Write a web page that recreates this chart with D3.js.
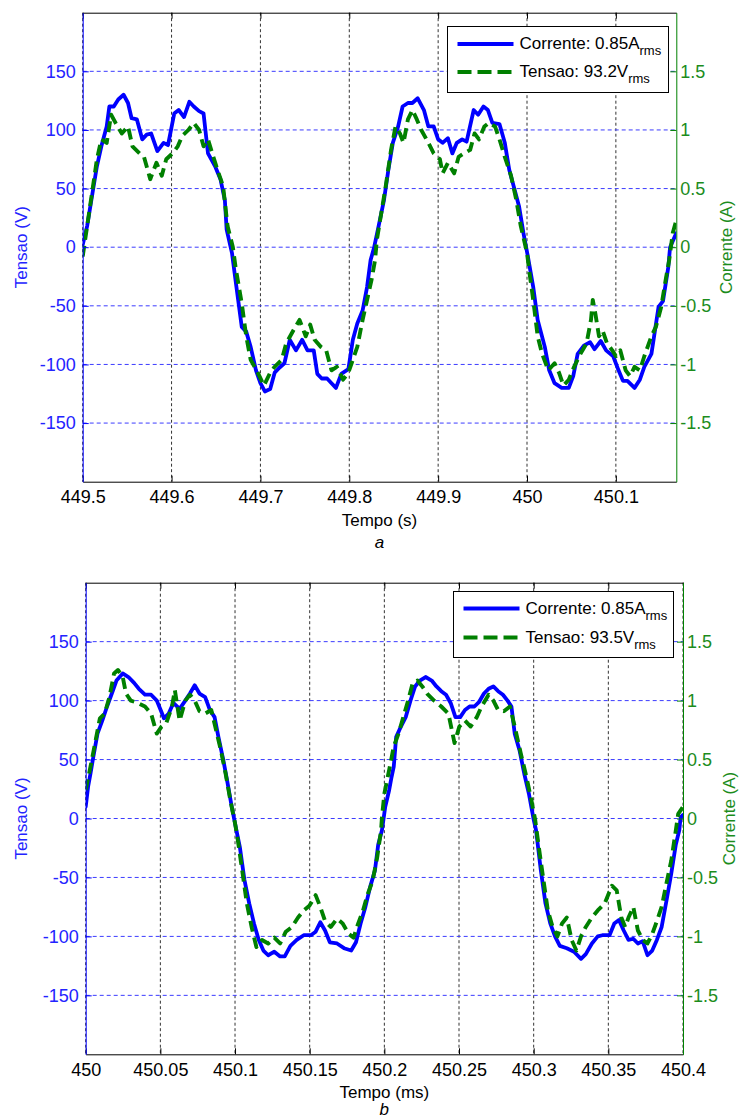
<!DOCTYPE html>
<html><head><meta charset="utf-8">
<script src="https://cdn.jsdelivr.net/npm/d3@7"></script>
<style>
body{margin:0;background:#fff}
svg text{font-family:"Liberation Sans",Arial,sans-serif}
</style></head><body>
<svg id="c" width="743" height="1120"></svg>
<script>
// ---------- data: panel a ----------
const aTimeCorrente = [449.500,449.505,449.511,449.516,449.521,449.527,449.530,449.535,449.540,449.546,
449.551,449.555,449.561,449.567,449.572,449.577,449.584,449.591,449.596,449.603,
449.608,449.614,449.620,449.625,449.631,449.636,449.641,449.649,449.655,449.660,
449.662,449.668,449.673,449.679,449.684,449.689,449.695,449.700,449.705,449.711,
449.716,449.721,449.727,449.733,449.740,449.747,449.753,449.760,449.764,449.769,
449.775,449.780,449.785,449.791,449.799,449.804,449.809,449.815,449.820,449.824,
449.828,449.833,449.839,449.844,449.849,449.855,449.860,449.866,449.871,449.877,
449.884,449.889,449.895,449.900,449.905,449.911,449.916,449.921,449.927,449.932,
449.940,449.945,449.951,449.956,449.961,449.969,449.975,449.980,449.985,449.991,
449.996,450.001,450.007,450.012,450.020,450.025,450.031,450.039,450.047,450.052,
450.057,450.064,450.071,450.076,450.083,450.089,450.097,450.103,450.108,450.113,
450.121,450.127,450.132,450.140,450.148,450.153,450.159,450.161,450.168];
const aCorrente = [0.02,0.18,0.46,0.69,0.86,1.03,1.20,1.20,1.26,1.30,
1.23,1.10,1.09,0.92,0.96,0.97,0.82,0.89,0.87,1.14,
1.17,1.11,1.24,1.20,1.16,1.14,0.80,0.69,0.58,0.40,
0.15,-0.05,-0.34,-0.68,-0.72,-0.85,-1.05,-1.16,-1.23,-1.21,
-1.07,-1.03,-0.99,-0.79,-0.88,-0.79,-0.88,-0.88,-1.08,-1.12,
-1.12,-1.16,-1.20,-1.08,-1.04,-0.79,-0.65,-0.54,-0.34,-0.11,
0.00,0.18,0.40,0.66,0.89,1.03,1.20,1.23,1.23,1.27,
1.17,1.03,1.03,0.92,0.89,0.93,0.80,0.89,0.92,0.90,
1.17,1.13,1.20,1.17,1.06,1.05,0.89,0.66,0.52,0.35,
0.12,-0.08,-0.34,-0.62,-0.85,-1.05,-1.16,-1.20,-1.20,-1.10,
-0.91,-0.84,-0.81,-0.87,-0.80,-0.88,-0.93,-1.05,-1.14,-1.14,
-1.20,-1.13,-1.02,-0.91,-0.51,-0.46,-0.17,0.00,0.12];
const aTimeTensao = [449.500,449.505,449.511,449.516,449.521,449.527,449.532,449.537,449.544,449.551,
449.556,449.564,449.569,449.576,449.583,449.589,449.594,449.601,449.607,449.612,
449.619,449.625,449.631,449.636,449.641,449.647,449.653,449.658,449.663,449.669,
449.672,449.679,449.684,449.689,449.697,449.704,449.711,449.716,449.724,449.729,
449.737,449.744,449.751,449.756,449.761,449.768,449.774,449.780,449.786,449.793,
449.799,449.804,449.809,449.815,449.820,449.825,449.829,449.831,449.836,449.841,
449.847,449.852,449.857,449.861,449.866,449.871,449.876,449.881,449.889,449.895,
449.902,449.905,449.911,449.918,449.923,449.929,449.936,449.941,449.946,449.952,
449.957,449.964,449.969,449.975,449.982,449.988,449.993,450.000,450.003,450.007,
450.012,450.017,450.024,450.031,450.036,450.041,450.047,450.053,450.060,450.067,
450.072,450.074,450.077,450.081,450.085,450.090,450.096,450.100,450.105,450.111,
450.116,450.121,450.127,450.132,450.140,450.145,450.151,450.156,450.160,450.164,
450.168];
const aTensao = [-8,18,49,75,92,89,113,106,97,103,
86,80,77,58,72,61,75,80,86,95,
100,106,100,86,92,77,63,52,18,0,
-17,-48,-76,-96,-107,-118,-107,-102,-96,-82,
-71,-62,-76,-66,-79,-85,-88,-105,-102,-113,
-107,-96,-85,-62,-45,-28,-11,6,29,52,
83,103,97,89,109,117,109,100,89,80,
75,63,72,63,77,80,83,97,92,103,
106,103,92,77,61,40,18,-5,-23,-45,
-76,-91,-105,-99,-107,-118,-113,-102,-91,-82,
-62,-45,-57,-76,-71,-82,-88,-93,-88,-105,
-110,-102,-105,-93,-76,-68,-51,-28,-11,12,
23];
const aXTicks = [449.5,449.6,449.7,449.8,449.9,450,450.1];

// ---------- data: panel b ----------
const bTimeCorrente = [450.0000,450.0016,450.0032,450.0048,450.0079,450.0111,450.0143,450.0175,450.0206,450.0248,
450.0286,450.0324,450.0356,450.0397,450.0438,450.0476,450.0502,450.0524,450.0556,450.0587,
450.0629,450.0667,450.0698,450.0730,450.0762,450.0800,450.0832,450.0863,450.0889,450.0921,
450.0946,450.0978,450.1006,450.1032,450.1063,450.1095,450.1127,450.1159,450.1190,450.1222,
450.1263,450.1302,450.1333,450.1371,450.1413,450.1460,450.1508,450.1540,450.1571,450.1603,
450.1635,450.1683,450.1730,450.1778,450.1810,450.1841,450.1873,450.1905,450.1937,450.1959,
450.1984,450.2006,450.2032,450.2048,450.2063,450.2079,450.2111,450.2143,450.2175,450.2206,
450.2238,450.2276,450.2317,450.2349,450.2381,450.2413,450.2444,450.2476,450.2508,450.2540,
450.2571,450.2603,450.2635,450.2667,450.2698,450.2730,450.2762,450.2794,450.2825,450.2851,
450.2873,450.2905,450.2937,450.2968,450.3000,450.3016,450.3048,450.3079,450.3111,450.3143,
450.3175,450.3222,450.3270,450.3317,450.3349,450.3390,450.3429,450.3460,450.3508,450.3540,
450.3571,450.3603,450.3635,450.3667,450.3698,450.3730,450.3762,450.3794,450.3825,450.3857,
450.3889,450.3921,450.3952,450.3975,450.3984,450.4000];
const bCorrente = [0.10,0.27,0.38,0.50,0.72,0.83,0.95,1.06,1.17,1.23,
1.20,1.15,1.10,1.05,1.05,1.00,0.92,0.85,0.89,0.98,
0.93,1.00,1.06,1.13,1.06,1.03,0.92,0.86,0.69,0.50,
0.33,0.10,-0.08,-0.24,-0.52,-0.72,-0.89,-1.03,-1.12,-1.16,
-1.13,-1.17,-1.17,-1.08,-1.03,-0.99,-0.99,-0.96,-0.88,-0.95,
-1.05,-1.06,-1.10,-1.12,-1.05,-0.89,-0.75,-0.58,-0.44,-0.22,
-0.10,0.10,0.24,0.35,0.44,0.69,0.78,0.86,1.00,1.12,
1.17,1.20,1.17,1.12,1.08,1.05,0.98,0.86,0.86,0.92,
0.95,0.95,0.99,1.06,1.10,1.12,1.08,1.05,1.00,0.95,
0.72,0.58,0.38,0.21,-0.01,-0.10,-0.44,-0.72,-0.89,-1.00,
-1.08,-1.10,-1.13,-1.19,-1.15,-1.06,-1.00,-0.99,-0.99,-0.89,
-0.86,-0.95,-1.03,-1.02,-1.06,-1.04,-1.16,-1.12,-1.03,-0.92,
-0.70,-0.47,-0.22,-0.10,0.01,0.03];
const bTimeTensao = [450.0000,450.0032,450.0063,450.0095,450.0127,450.0159,450.0190,450.0216,450.0248,450.0270,
450.0302,450.0349,450.0397,450.0438,450.0476,450.0508,450.0540,450.0578,450.0597,450.0629,
450.0667,450.0698,450.0730,450.0762,450.0800,450.0841,450.0873,450.0905,450.0937,450.0968,
450.1000,450.1016,450.1048,450.1079,450.1111,450.1143,450.1181,450.1222,450.1263,450.1302,
450.1340,450.1381,450.1422,450.1460,450.1498,450.1540,450.1571,450.1603,450.1641,450.1683,
450.1721,450.1762,450.1794,450.1825,450.1857,450.1889,450.1921,450.1952,450.1978,450.1984,
450.2000,450.2032,450.2063,450.2095,450.2127,450.2159,450.2190,450.2222,450.2254,450.2286,
450.2333,450.2381,450.2429,450.2470,450.2502,450.2540,450.2578,450.2619,450.2651,450.2698,
450.2730,450.2762,450.2800,450.2841,450.2873,450.2914,450.2952,450.2984,450.3010,450.3032,
450.3063,450.3095,450.3127,450.3159,450.3190,450.3222,450.3254,450.3286,450.3317,450.3349,
450.3390,450.3429,450.3476,450.3524,450.3556,450.3587,450.3613,450.3635,450.3667,450.3698,
450.3730,450.3762,450.3794,450.3825,450.3857,450.3889,450.3921,450.3952,450.3968,450.4000];
const bTensao = [24,44,64,85,89,103,123,126,120,106,
100,98,95,89,72,78,81,95,109,83,
100,105,100,91,89,92,75,58,38,16,
-4,-16,-44,-72,-92,-109,-103,-106,-101,-106,
-96,-92,-84,-78,-74,-65,-75,-87,-92,-85,
-89,-98,-101,-89,-78,-64,-53,-33,-10,1,
21,41,61,72,86,100,115,117,112,106,
100,95,89,64,78,83,78,86,95,105,
100,92,91,95,78,55,35,16,-1,-22,
-50,-78,-92,-100,-89,-84,-103,-112,-100,-92,
-84,-78,-72,-57,-61,-84,-92,-84,-75,-95,
-103,-106,-98,-87,-75,-55,-36,-10,4,10];
const bXTicks = [450,450.05,450.1,450.15,450.2,450.25,450.3,450.35,450.4];

// shared
const tensaoTicks = [-150,-100,-50,0,50,100,150];
const correnteTicks = [-1.5,-1,-0.5,0,0.5,1,1.5];

const BLUE = '#0000ff', GREEN = '#008000';
const svg = d3.select('#c');

function panel(p){
  const g = svg.append('g');
  const x = d3.scaleLinear().domain(p.xDomain).range([p.left,p.right]);
  const yL = d3.scaleLinear().domain([-200,200]).range([p.bottom,p.top]);
  const yR = d3.scaleLinear().domain([-2,2]).range([p.bottom,p.top]);

  const clipId = 'clip'+p.id;
  svg.append('clipPath').attr('id',clipId).append('rect')
    .attr('x',p.left).attr('y',p.top).attr('width',p.right-p.left).attr('height',p.bottom-p.top);

  // grids
  g.append('g').selectAll('line').data(p.xTicks).join('line')
    .attr('x1',d=>x(d)).attr('x2',d=>x(d)).attr('y1',p.top).attr('y2',p.bottom)
    .attr('stroke','#333').attr('stroke-width',1).attr('stroke-dasharray','3,2.5');
  g.append('g').selectAll('line').data(tensaoTicks).join('line')
    .attr('x1',p.left).attr('x2',p.right).attr('y1',d=>yL(d)).attr('y2',d=>yL(d))
    .attr('stroke','#3c3cff').attr('stroke-width',1).attr('stroke-dasharray','4,3');

  // curves
  const cg = g.append('g').attr('clip-path','url(#'+clipId+')');
  const lineR = d3.line().x(d=>x(d[0])).y(d=>yR(d[1]));
  const lineL = d3.line().x(d=>x(d[0])).y(d=>yL(d[1]));
  cg.append('path').datum(d3.zip(p.tc,p.vc)).attr('d',lineR)
    .attr('fill','none').attr('stroke',BLUE).attr('stroke-width',3.8)
    .attr('stroke-linejoin','round').attr('stroke-linecap','round');
  cg.append('path').datum(d3.zip(p.tt,p.vt)).attr('d',lineL)
    .attr('fill','none').attr('stroke',GREEN).attr('stroke-width',3.9)
    .attr('stroke-dasharray','11,6').attr('stroke-linejoin','round');

  const fmt = d=>String(d);
  // axes
  const ax = g.append('g').attr('transform',`translate(0,${p.bottom})`)
    .call(d3.axisBottom(x).tickValues(p.xTicks).tickFormat(fmt).tickSizeInner(-6).tickSizeOuter(0).tickPadding(9));
  ax.select('.domain').attr('stroke','#000');
  ax.selectAll('.tick line').attr('stroke','#000');
  ax.selectAll('text').attr('fill','#000').style('font-size','18px');

  const at = g.append('g').attr('transform',`translate(0,${p.top})`)
    .call(d3.axisTop(x).tickValues(p.xTicks).tickFormat('').tickSizeInner(-6).tickSizeOuter(0));
  at.select('.domain').attr('stroke','#000');
  at.selectAll('.tick line').attr('stroke','#000');

  const al = g.append('g').attr('transform',`translate(${p.left},0)`)
    .call(d3.axisLeft(yL).tickValues(tensaoTicks).tickFormat(fmt).tickSizeInner(-6).tickSizeOuter(0).tickPadding(7));
  al.select('.domain').attr('stroke',BLUE);
  al.selectAll('.tick line').attr('stroke',BLUE);
  al.selectAll('text').attr('fill','#2323ff').style('font-size','18px');

  const ar = g.append('g').attr('transform',`translate(${p.right},0)`)
    .call(d3.axisRight(yR).tickValues(correnteTicks).tickFormat(fmt).tickSizeInner(-6).tickSizeOuter(0).tickPadding(4));
  ar.select('.domain').attr('stroke',GREEN);
  ar.selectAll('.tick line').attr('stroke',GREEN);
  ar.selectAll('text').attr('fill','#1c8c1c').style('font-size','18px');

  // titles
  const cy = (p.top+p.bottom)/2, cx = (p.left+p.right)/2;
  g.append('text').attr('transform',`translate(27,${cy}) rotate(-90)`).attr('text-anchor','middle')
    .attr('fill','#2323ff').style('font-size','17px').text('Tensao (V)');
  g.append('text').attr('transform',`translate(${Math.min(p.right+56,735)},${cy}) rotate(-90)`).attr('text-anchor','middle')
    .attr('fill','#1c8c1c').style('font-size','17px').text('Corrente (A)');
  g.append('text').attr('x',cx).attr('y',p.xTitleY).attr('text-anchor','middle')
    .style('font-size','17px').text(p.xTitle);
  g.append('text').attr('x',cx).attr('y',p.capY).attr('text-anchor','middle')
    .style('font-size','17px').style('font-style','italic').text(p.caption);

  // legend
  const L = p.legend;
  g.append('rect').attr('x',L.x).attr('y',L.y).attr('width',L.w).attr('height',L.h)
    .attr('fill','#fff').attr('stroke','#000').attr('stroke-width',1);
  const rows = [
    {label:'Corrente: '+p.irms+'A', color:BLUE, dash:null, dy:L.r1},
    {label:'Tensao: '+p.vrms+'V', color:GREEN, dash:'14,6', dy:L.r2}
  ];
  rows.forEach(r=>{
    g.append('line').attr('x1',L.x+10).attr('x2',L.x+66).attr('y1',L.y+r.dy).attr('y2',L.y+r.dy)
      .attr('stroke',r.color).attr('stroke-width',4).attr('stroke-dasharray',r.dash);
    const t = g.append('text').attr('x',L.x+72).attr('y',L.y+r.dy+5).style('font-size','17px').attr('fill','#000');
    t.append('tspan').text(r.label);
    t.append('tspan').attr('dy',6).style('font-size','13px').text('rms');
  });
}

panel({id:'a', left:82.7, right:676.3, top:12.7, bottom:481.7, xDomain:[449.5,450.168], xTicks:aXTicks,
  tc:aTimeCorrente, vc:aCorrente, tt:aTimeTensao, vt:aTensao,
  xTitle:'Tempo (s)', xTitleY:526, caption:'a', capY:548,
  legend:{x:447.5,y:26.5,w:221,h:66,r1:17.5,r2:45.5}, irms:'0.85', vrms:'93.2'});
panel({id:'b', left:85.7, right:683, top:582.7, bottom:1054.3, xDomain:[450,450.4], xTicks:bXTicks,
  tc:bTimeCorrente, vc:bCorrente, tt:bTimeTensao, vt:bTensao,
  xTitle:'Tempo (ms)', xTitleY:1098, caption:'b', capY:1115,
  legend:{x:453.5,y:591.5,w:220,h:66,r1:17,r2:46}, irms:'0.85', vrms:'93.5'});
</script>
</body></html>
